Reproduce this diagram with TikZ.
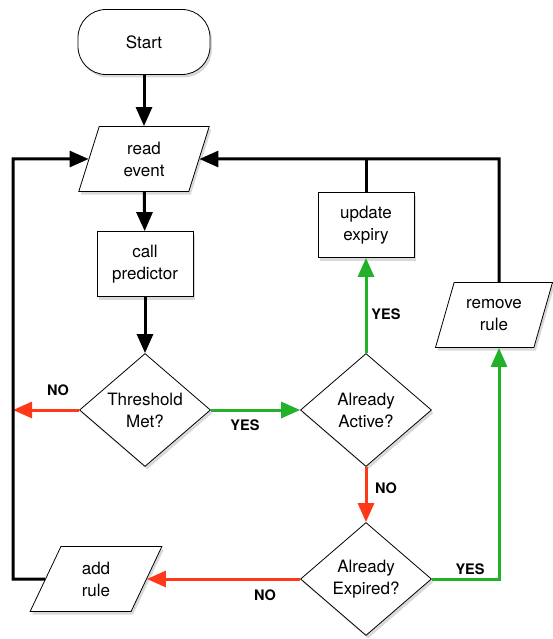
\documentclass[tikz,border=0pt]{standalone}
\usepackage{fontspec}
\setmainfont{TeX Gyre Heros}
\usetikzlibrary{arrows.meta}
\usetikzlibrary{shapes.geometric}
\usetikzlibrary{shadows}
\definecolor{mgreen}{rgb}{0.13, 0.70, 0.16}
\definecolor{mred}{rgb}{1.0, 0.22, 0.1}
\tikzset{box/.style = {draw, thick, fill = white, align = center, inner sep = 1pt, drop shadow = {shadow xshift = 2pt, shadow yshift = -3pt, opacity = 0.3}, font = \fontsize{17}{22}\selectfont}}
\tikzset{startbox/.style = {box, rectangle, rounded corners = 28pt, minimum width = 132pt, minimum height = 65pt}}
\tikzset{procbox/.style = {box, rectangle, minimum width = 96pt, minimum height = 65pt}}
\tikzset{iobox/.style = {box, trapezium, trapezium stretches = true, minimum height = 65pt}}
\tikzset{decision/.style = {box, diamond, aspect = 1.16, inner sep = 0pt, minimum width = 131pt, minimum height = 113pt}}
\tikzset{flow/.style = {line width = 3pt, -{Triangle[length = 19pt, width = 16pt]}}}
\tikzset{yesflow/.style = {flow, mgreen}}
\tikzset{noflow/.style = {flow, mred}}
\tikzset{anslabel/.style = {font = \fontsize{14.5}{16}\bfseries\selectfont}}

\begin{document}
\begin{tikzpicture}[x = 1pt, y = -1pt]
      \useasboundingbox (0, 0) rectangle (553, 639);

      \node [startbox] (start) at (144, 42) {Start};

      \node [iobox, minimum width = 131pt, trapezium left angle = 75, trapezium right angle = 105] (read) at (144, 159) {read\\event};

      \node [procbox] (call) at (145, 264) {call\\predictor};

      \node [decision] (thresh) at (145, 410) {Threshold\\Met?};

      \node [decision] (active) at (366, 410) {Already\\Active?};

      \node [procbox] (update) at (366, 225) {update\\expiry};

      \node [iobox, minimum width = 118pt, trapezium left angle = 68, trapezium right angle = 112] (remove) at (494, 315) {remove\\rule};

      \node [decision] (expired) at (366, 579) {Already\\Expired?};

      \node [iobox, minimum width = 132pt, trapezium left angle = 70, trapezium right angle = 110] (add) at (96, 579) {add\\rule};

      \coordinate (lefttop) at (13, 159);
      \coordinate (noend) at (13, 410);
      \coordinate (righttop) at (499, 159);

      \draw [flow] (start) -- (read);
      \draw [flow] (read) -- (call);
      \draw [flow] (call) -- (thresh);

      \draw [noflow] (thresh) -- (noend);
      \node [anslabel] (nothresh) at (58, 390) {NO};

      \draw [yesflow] (thresh) -- (active);
      \node [anslabel] (yesthresh) at (245, 425) {YES};

      \draw [yesflow] (active) -- (update);
      \node [anslabel] (yesactive) at (386, 314) {YES};

      \draw [noflow] (active) -- (expired);
      \node [anslabel] (noactive) at (386, 488) {NO};

      \draw [yesflow] (expired) -| (remove.south -| righttop);
      \node [anslabel] (yesexpired) at (470, 569) {YES};

      \draw [noflow] (expired) -- (add);
      \node [anslabel] (noexpired) at (265, 595) {NO};

      \draw [flow] (add) -| (lefttop) -- (read);

      \draw [line width = 3pt] (update) -- (update |- righttop);
      \draw [flow] (remove.north -| righttop) -- (righttop) -- (read);
    \end{tikzpicture}
\end{document}
